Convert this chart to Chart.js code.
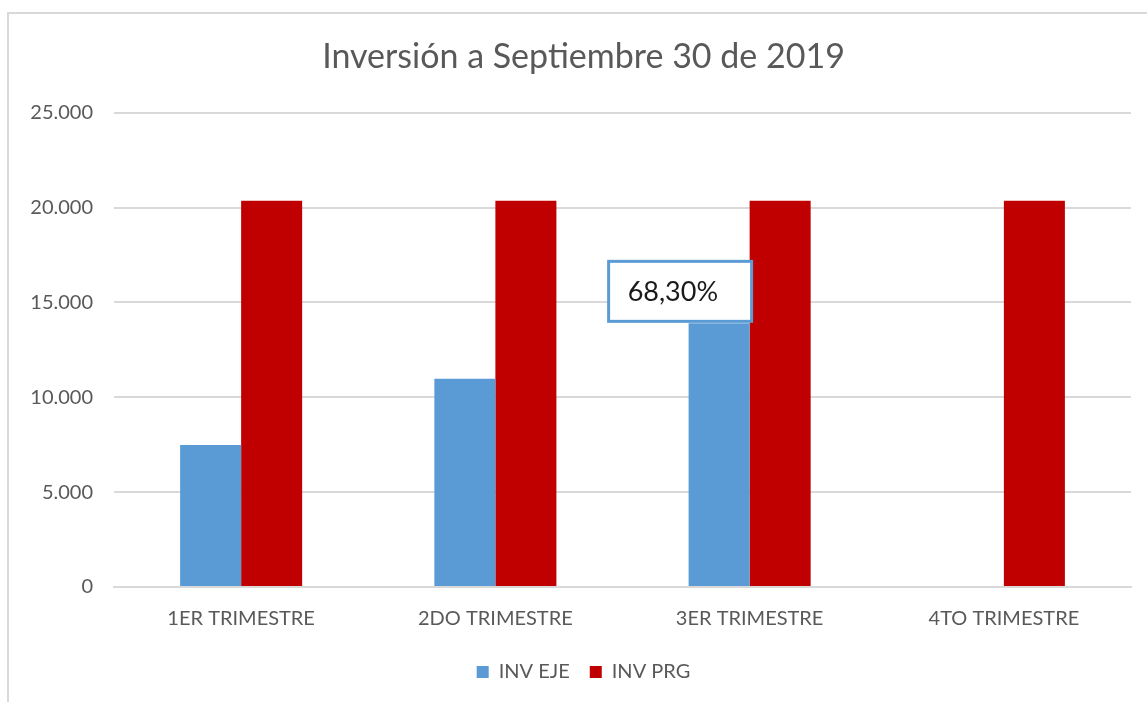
<!DOCTYPE html>
<html>
<head>
<meta charset="utf-8">
<script src="https://cdn.jsdelivr.net/npm/chart.js@4.4.0/dist/chart.umd.min.js"></script>
<style>
html,body{margin:0;padding:0;background:#fff;}
#wrap{position:relative;width:1147px;height:702px;}
</style>
</head>
<body>
<div id="wrap"><canvas id="c" width="1147" height="702"></canvas></div>
<script>
const categories = ['1ER TRIMESTRE', '2DO TRIMESTRE', '3ER TRIMESTRE', '4TO TRIMESTRE'];
const invEje = [7480, 10975, 13900, null];
const invPrg = [20360, 20360, 20360, 20360];
const seriesNames = ['INV EJE', 'INV PRG'];
const titleText = 'Inversión a Septiembre 30 de 2019';
const annotationText = '68,30%';
const annotationIndex = 2;

const FONT = 'Lato, "Open Sans", sans-serif';
const GREY = '#595959';

const frame = {
  id: 'frame',
  beforeDraw(chart) {
    const ctx = chart.ctx;
    ctx.save();
    ctx.fillStyle = '#fff';
    ctx.fillRect(0, 0, chart.width, chart.height);
    ctx.strokeStyle = '#d9d9d9';
    ctx.lineWidth = 2;
    ctx.beginPath();
    ctx.moveTo(8, chart.height + 5);
    ctx.lineTo(8, 13);
    ctx.lineTo(chart.width + 5, 13);
    ctx.stroke();
    ctx.restore();
  }
};

// the original chart frame extends past the right edge, so title and legend sit right of centre
const shiftBlocks = {
  id: 'shiftBlocks',
  afterLayout(chart) {
    const dx = 14;
    [chart.titleBlock, chart.legend].forEach(b => {
      if (b) { b.left += dx; b.right += dx; }
    });
  }
};

const callout = {
  id: 'callout',
  afterDatasetsDraw(chart) {
    const meta = chart.getDatasetMeta(0);
    const bar = meta.data[annotationIndex];
    if (!bar) return;
    const ctx = chart.ctx;
    const right = bar.x + bar.width / 2 + 2;
    const w = 143, h = 60;
    const left = right - w;
    const bottom = bar.y - 2;
    const top = bottom - h;
    ctx.save();
    ctx.fillStyle = '#fff';
    ctx.fillRect(left, top, w, h);
    ctx.strokeStyle = '#5b9bd5';
    ctx.lineWidth = 3;
    ctx.strokeRect(left, top, w, h);
    ctx.fillStyle = '#1a1a1a';
    ctx.font = '27px ' + FONT;
    ctx.textBaseline = 'middle';
    ctx.textAlign = 'left';
    ctx.fillText(annotationText, left + 19, top + h / 2 + 1);
    ctx.restore();
  }
};

new Chart(document.getElementById('c'), {
  type: 'bar',
  data: {
    labels: categories,
    datasets: [
      { label: seriesNames[0], data: invEje, backgroundColor: '#5b9bd5', borderWidth: 0 },
      { label: seriesNames[1], data: invPrg, backgroundColor: '#c00000', borderWidth: 0 }
    ]
  },
  options: {
    responsive: false,
    animation: false,
    devicePixelRatio: 1,
    layout: { padding: { left: 8, right: 16, top: 12, bottom: 10 } },
    datasets: { bar: { categoryPercentage: 0.48, barPercentage: 1 } },
    plugins: {
      title: {
        display: true,
        text: titleText,
        color: GREY,
        font: { family: FONT, size: 34, weight: 'normal' },
        padding: { top: 25, bottom: 35 }
      },
      legend: {
        position: 'bottom',
        labels: {
          color: GREY,
          font: { family: FONT, size: 20 },
          boxWidth: 12,
          boxHeight: 12,
          padding: 20
        }
      },
      tooltip: { enabled: false }
    },
    scales: {
      x: {
        grid: { display: false, drawTicks: false },
        border: { display: true, color: '#d9d9d9', width: 2 },
        ticks: { color: GREY, font: { family: FONT, size: 20 }, padding: 20, maxRotation: 0 },
        afterFit(s) { s.height = 55; }
      },
      y: {
        min: 0, max: 25000,
        grid: { color: '#d9d9d9', lineWidth: 2, drawTicks: false },
        border: { display: false },
        ticks: {
          stepSize: 5000,
          color: GREY,
          font: { family: FONT, size: 20 },
          padding: 21,
          callback: v => v === 0 ? '0' : v.toLocaleString('de-DE')
        },
        afterFit(s) { s.width = 106; }
      }
    }
  },
  plugins: [frame, shiftBlocks, callout]
});
</script>
</body>
</html>
